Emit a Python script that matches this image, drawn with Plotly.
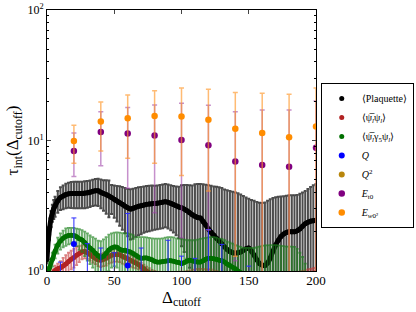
import plotly.graph_objects as go

# ---------------- data ----------------
# Plaquette (dense series)
plaq_delta = [0, 1, 2, 3, 4, 5] + list(range(6, 201, 2))
plaq_tau = [1.22, 1.74, 2.15, 2.53, 2.80, 3.00,
            3.15, 3.45, 3.66, 3.75, 3.85, 3.90, 3.92, 3.93, 3.93, 3.92,
            3.93, 3.95, 3.97, 4.02, 4.08, 4.12, 4.12, 4.02, 3.93, 3.85,
            3.76, 3.65, 3.54, 3.44, 3.34, 3.24, 3.14, 3.05, 2.99, 3.02,
            3.08, 3.13, 3.16, 3.20, 3.24, 3.26, 3.28, 3.29, 3.31, 3.34,
            3.37, 3.40, 3.36, 3.30, 3.23, 3.16, 3.10, 3.05, 2.98, 2.90,
            2.80, 2.70, 2.63, 2.57, 2.55, 2.40, 2.25, 2.10, 1.98, 1.88,
            1.78, 1.70, 1.62, 1.53, 1.46, 1.41, 1.38, 1.37, 1.38, 1.40,
            1.44, 1.48, 1.50, 1.42, 1.32, 1.22, 1.14, 1.11, 1.10, 1.15,
            1.26, 1.42, 1.58, 1.72, 1.84, 1.92, 1.97, 2.00, 2.00, 2.00,
            2.03, 2.10, 2.20, 2.30, 2.36, 2.41, 2.43, 2.45]
plaq_err = [0.08, 0.15, 0.25, 0.35, 0.42, 0.50,
            0.55, 0.65, 0.72, 0.78, 0.82, 0.85, 0.88, 0.90, 0.90, 0.90,
            0.91, 0.92, 0.92, 0.92, 0.93, 0.94, 0.97, 1.00, 1.04, 1.10,
            1.18, 0.92, 0.98, 1.05, 1.12, 1.17, 1.19, 1.20, 1.25, 1.25,
            1.25, 1.25, 1.25, 1.24, 1.24, 1.24, 1.24, 1.22, 1.22, 1.23,
            1.24, 1.24, 1.24, 1.25, 1.26, 1.28, 1.32, 1.50, 1.58, 1.66,
            1.74, 1.82, 2.00, 2.08, 2.10, 2.22, 2.33, 2.45, 2.52, 2.57,
            2.64, 2.68, 2.70, 2.69, 2.69, 2.69, 2.67, 2.63, 2.57, 2.45,
            2.31, 2.17, 2.08, 2.08, 2.13, 2.16, 2.19, 2.21, 2.25, 2.30,
            2.29, 2.20, 2.10, 1.98, 1.88, 1.82, 1.81, 1.80, 1.80, 1.80,
            1.79, 1.80, 1.80, 1.80, 1.89, 1.99, 2.12, 2.20]

# <psibar psi>
pbp_delta = list(range(0, 201, 2))
pbp_tau = [0.70, 0.85, 0.95, 1.01, 1.04, 1.06, 1.09, 1.13, 1.18, 1.23,
           1.27, 1.32, 1.36, 1.40, 1.41, 1.38, 1.34, 1.29, 1.25, 1.22,
           1.21, 1.23, 1.25, 1.29, 1.32, 1.34, 1.34, 1.33, 1.30, 1.27,
           1.24, 1.21, 1.18, 1.15, 1.12, 1.08, 1.04, 1.00, 0.97, 0.95,
           0.93, 0.92, 0.91, 0.90, 0.90, 0.90, 0.90, 0.91, 0.91, 0.92,
           0.92, 0.92, 0.93, 0.93, 0.94, 0.94, 0.95, 0.95, 0.95, 0.95,
           0.95, 0.95, 0.94, 0.93, 0.92, 0.91, 0.90, 0.89, 0.88, 0.87,
           0.86, 0.85, 0.85, 0.85, 0.85, 0.85, 0.85, 0.85, 0.86, 0.86,
           0.86, 0.86, 0.87, 0.87, 0.87, 0.88, 0.88, 0.88, 0.89, 0.89,
           0.90, 0.90, 0.91, 0.91, 0.92, 0.92, 0.93, 0.94, 0.95, 0.96,
           0.97]
pbp_err = [0.05, 0.07, 0.08, 0.09, 0.10, 0.13, 0.17, 0.19, 0.20, 0.20,
           0.21, 0.21, 0.19, 0.17, 0.16, 0.14, 0.14, 0.13, 0.12, 0.13,
           0.14, 0.14, 0.15, 0.15, 0.16, 0.16, 0.16, 0.16, 0.16, 0.15,
           0.14, 0.13, 0.12, 0.10, 0.09, 0.08, 0.08, 0.08, 0.08, 0.07,
           0.07, 0.07, 0.07, 0.07, 0.07, 0.07, 0.07, 0.07, 0.07, 0.07,
           0.07, 0.07, 0.07, 0.08, 0.08, 0.09, 0.09, 0.09, 0.09, 0.08,
           0.08, 0.08, 0.07, 0.07, 0.07, 0.07, 0.07, 0.07, 0.07, 0.07,
           0.07, 0.07, 0.07, 0.07, 0.07, 0.07, 0.07, 0.07, 0.07, 0.07,
           0.07, 0.07, 0.07, 0.07, 0.07, 0.07, 0.07, 0.07, 0.07, 0.07,
           0.07, 0.07, 0.07, 0.07, 0.07, 0.08, 0.08, 0.09, 0.09, 0.09,
           0.09]

# <psibar gamma5 psi>
pg5p_delta = list(range(0, 201, 2))
pg5p_tau = [0.90, 1.07, 1.23, 1.42, 1.58, 1.70, 1.78, 1.84, 1.87, 1.88,
            1.87, 1.83, 1.77, 1.73, 1.65, 1.57, 1.50, 1.44, 1.37, 1.31,
            1.27, 1.30, 1.37, 1.45, 1.50, 1.53, 1.52, 1.47, 1.44, 1.44,
            1.42, 1.40, 1.36, 1.32, 1.28, 1.25, 1.26, 1.26, 1.24, 1.22,
            1.19, 1.17, 1.17, 1.18, 1.19, 1.20, 1.20, 1.19, 1.17, 1.16,
            1.14, 1.16, 1.19, 1.21, 1.20, 1.18, 1.17, 1.17, 1.20, 1.23,
            1.25, 1.25, 1.24, 1.23, 1.21, 1.20, 1.17, 1.13, 1.10, 1.07,
            1.04, 1.00, 0.97, 0.94, 0.92, 0.90, 0.89, 0.88, 0.88, 0.88,
            0.89, 0.90, 0.90, 0.90, 0.90, 0.90, 0.89, 0.88, 0.87, 0.85,
            0.83, 0.80, 0.78, 0.75, 0.72, 0.70, 0.68, 0.66, 0.65, 0.64,
            0.63]
pg5p_err = [0.05, 0.10, 0.15, 0.17, 0.22, 0.24, 0.26, 0.28, 0.27, 0.26,
            0.27, 0.28, 0.32, 0.33, 0.35, 0.37, 0.37, 0.38, 0.40, 0.40,
            0.42, 0.45, 0.45, 0.45, 0.44, 0.44, 0.46, 0.50, 0.51, 0.50,
            0.52, 0.52, 0.52, 0.50, 0.54, 0.57, 0.56, 0.55, 0.55, 0.56,
            0.58, 0.60, 0.60, 0.60, 0.61, 0.62, 0.62, 0.62, 0.61, 0.61,
            0.62, 0.58, 0.53, 0.51, 0.52, 0.54, 0.57, 0.59, 0.58, 0.56,
            0.56, 0.57, 0.58, 0.57, 0.56, 0.56, 0.55, 0.55, 0.55, 0.55,
            0.54, 0.55, 0.56, 0.56, 0.58, 0.60, 0.61, 0.62, 0.64, 0.66,
            0.67, 0.67, 0.67, 0.68, 0.68, 0.68, 0.68, 0.68, 0.68, 0.69,
            0.71, 0.74, 0.75, 0.73, 0.66, 0.58, 0.46, 0.32, 0.20, 0.16,
            0.15]

# Q
q_delta = list(range(10, 201, 10))
q_tau = [0.60, 1.61, 0.85, 0.80, 0.75, 1.10, 0.80, 0.55, 0.80, 0.70,
         0.65, 0.90, 0.80, 0.50, 0.60, 0.50, 0.45, 0.50, 0.45, 0.50]
q_err = [0.57, 0.94, 0.77, 0.70, 0.63, 1.66, 0.70, 0.40, 0.92, 0.60,
         0.60, 1.18, 0.80, 0.40, 0.49, 0.40, 0.40, 0.40, 0.40, 0.40]

# Q^2
q2_delta = list(range(10, 201, 10))
q2_tau = [0.40, 0.55, 0.50, 0.45, 0.42, 0.50, 0.45, 0.40, 0.42, 0.40,
          0.38, 0.42, 0.40, 0.36, 0.38, 0.35, 0.34, 0.35, 0.33, 0.34]
q2_err = [0.20, 0.30, 0.28, 0.25, 0.24, 0.30, 0.26, 0.22, 0.25, 0.22,
          0.20, 0.24, 0.22, 0.20, 0.21, 0.19, 0.18, 0.19, 0.18, 0.19]

# E_t0
et0_delta = list(range(20, 201, 20))
et0_tau = [8.3, 11.6, 11.3, 10.9, 10.1, 9.2, 6.9, 6.5, 6.3, 8.8]
et0_err_up = [3.1, 5.0, 6.6, 7.8, 9.2, 9.4, 9.7, 10.6, 10.8, 11.3]
et0_err_dn = [3.0, 5.2, 7.0, 8.1, 8.3, 7.15, 5.7, 7.0, 7.0, 9.0]

# E_w0^2
ew0_delta = list(range(20, 201, 20))
ew0_tau = [9.9, 14.0, 14.8, 15.4, 15.3, 14.4, 12.3, 11.4, 10.6, 12.8]
ew0_err = [3.2, 5.7, 7.5, 8.7, 9.9, 10.3, 11.0, 11.6, 12.0, 12.4]

x_ticks = [0, 50, 100, 150, 200]
y_ticks = [1, 10, 100]
y_ticktext = ["10<sup>0</sup>", "10<sup>1</sup>", "10<sup>2</sup>"]

FONT = "Liberation Serif"

fig = go.Figure()


def add_dense(x, y, err, color, ecolor, name, line_w, msize, eth):
    fig.add_trace(go.Scatter(
        x=x, y=y, mode="markers", name=name,
        marker=dict(color=color, size=msize),
        error_y=dict(type="data", array=err, visible=True, color=ecolor,
                     thickness=eth, width=1.5),
        cliponaxis=True,
    ))
    fig.add_trace(go.Scatter(
        x=x, y=y, mode="lines", showlegend=False, hoverinfo="skip",
        line=dict(color=color, width=line_w, shape="spline"),
    ))


add_dense(plaq_delta, plaq_tau, plaq_err, "black", "rgba(45,45,45,0.85)",
          "\u27e8Plaquette\u27e9", 5, 5, 2.0)
add_dense(pbp_delta, pbp_tau, pbp_err, "#b22222", "rgba(200,60,60,0.65)",
          "\u27e8\u03c8\u0305<sub><i>l</i></sub>\u03c8<sub><i>l</i></sub>\u27e9", 4.5, 5, 1.8)
add_dense(pg5p_delta, pg5p_tau, pg5p_err, "#007000", "rgba(30,130,30,0.68)",
          "\u27e8\u03c8\u0305<sub><i>l</i></sub>\u03b3<sub>5</sub>\u03c8<sub><i>l</i></sub>\u27e9", 4.5, 5, 1.8)

fig.add_trace(go.Scatter(
    x=q_delta, y=q_tau, mode="markers", name="<i>Q</i>",
    marker=dict(color="#0000ff", size=6),
    error_y=dict(type="data", array=q_err, visible=True, color="#2a2aff",
                 thickness=1, width=2.5),
))
fig.add_trace(go.Scatter(
    x=q2_delta, y=q2_tau, mode="markers", name="<i>Q</i><sup>2</sup>",
    marker=dict(color="#b8860b", size=6),
    error_y=dict(type="data", array=q2_err, visible=True,
                 color="rgba(184,134,11,0.6)", thickness=1, width=2.5),
))
fig.add_trace(go.Scatter(
    x=et0_delta, y=et0_tau, mode="markers", name="<i>E</i><sub>t0</sub>",
    marker=dict(color="#800080", size=6.5),
    error_y=dict(type="data", array=et0_err_up, arrayminus=et0_err_dn,
                 symmetric=False, visible=True,
                 color="rgba(160,70,170,0.6)", thickness=1.5, width=2.5),
))
fig.add_trace(go.Scatter(
    x=ew0_delta, y=ew0_tau, mode="markers",
    name="<i>E</i><sub><i>w</i>0\u00b2</sub>",
    marker=dict(color="#ff8c00", size=6.5),
    error_y=dict(type="data", array=ew0_err, visible=True,
                 color="rgba(255,150,40,0.65)", thickness=1.5, width=2.5),
))

fig.update_layout(
    width=416, height=312,
    margin=dict(l=47, r=100, t=10, b=41, autoexpand=False),
    paper_bgcolor="white", plot_bgcolor="white",
    font=dict(family=FONT, color="black", size=12),
    showlegend=True,
    legend=dict(
        x=0.771, y=0.734, xanchor="left", yanchor="top",
        xref="container", yref="container",
        bordercolor="black", borderwidth=1, bgcolor="white",
        font=dict(family=FONT, size=10), tracegroupgap=0,
        itemwidth=30,
    ),
    xaxis=dict(
        range=[0, 200], tickvals=x_ticks, ticks="inside", ticklen=4,
        showline=True, mirror="ticks", linecolor="black", linewidth=1,
        showgrid=False, zeroline=False, tickfont=dict(size=13),
        automargin=False, ticklabelstandoff=-3,
        title=dict(text="\u0394<sub>cutoff</sub>", font=dict(size=17), standoff=0),
    ),
    yaxis=dict(
        type="log", range=[0, 2], tickvals=y_ticks, ticktext=y_ticktext,
        ticks="inside", ticklen=4, showline=True, mirror="allticks",
        linecolor="black", linewidth=1, showgrid=False, zeroline=False,
        tickfont=dict(size=12), automargin=False, ticklabeloverflow="allow",
        minor=dict(ticks="inside", ticklen=2, tickcolor="black", showgrid=False,
                   tickvals=[2, 3, 4, 5, 6, 7, 8, 9, 20, 30, 40, 50, 60, 70, 80, 90]),
        title=dict(text="\u03c4<sub>int</sub>(\u0394<sub>cutoff</sub>)",
                   font=dict(size=17), standoff=4),
    ),
)

# remove the browser's default 8 px body margin so the figure fills the window
fig.write_html("out.html",
               config={"displayModeBar": False},
               post_script="document.body.style.margin='0px';")
